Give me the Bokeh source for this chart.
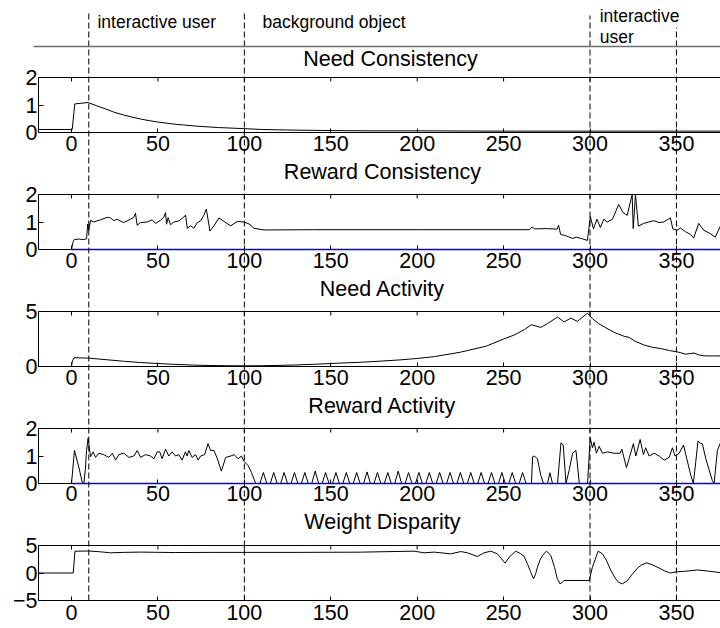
import math
from bokeh.plotting import figure
from bokeh.models import Range1d, FixedTicker, LinearAxis
from bokeh.core.properties import value
from bokeh.layouts import column
from bokeh.embed import file_html
from bokeh.resources import INLINE

FONT = "Liberation Sans"
FS = "21.5px"
AFS = "17.5px"

# ---------------- data ----------------
X_LIM = (-19.1, 375.5)
x_ticks = [0, 50, 100, 150, 200, 250, 300, 350]
event_x = [10, 100, 300, 350]
phase_text = ["interactive user", "background object", "interactive", "user"]
phase_x = [15.0, 110.5, 305.6, 305.6]

titles = ["Need Consistency", "Reward Consistency", "Need Activity",
          "Reward Activity", "Weight Disparity"]
title_x = [184.5, 179.9, 179.9, 179.9, 179.9]

y_limits = [(0, 2), (0, 2), (0, 5), (0, 2), (-5, 5)]
y_ticks = [[0, 1, 2], [0, 1, 2], [0, 5], [0, 1, 2], [-5, 0, 5]]

zero_x = [0, 380]
zero_y = [0, 0]

nc_x = [-19, 0, 0.4, 1.9, 5, 9.6, 15, 20, 24.5, 30, 35, 40, 45, 50, 60, 72.7, 85,
        100, 110, 125, 150, 175, 200, 250, 300, 350, 376]
nc_y = [0.11, 0.11, 0.11, 1.04, 1.06, 1.09, 0.96, 0.85, 0.74, 0.64, 0.56, 0.49, 0.43,
        0.38, 0.3, 0.23, 0.18, 0.14, 0.11, 0.09, 0.07, 0.06, 0.06, 0.05, 0.05, 0.05, 0.05]

rc_x = [-19, 0, 1, 1.7, 4.2, 7.1, 8.7, 9.4, 10, 11, 12.9, 16.8, 20.6, 22.5, 24.5, 26.4,
        30.2, 34.1, 36, 37, 38, 39.9, 43.8, 46.7, 48.6, 51.5, 53.4, 54.4, 55, 55.9, 57.3,
        59.2, 62.1, 65, 66, 67, 68.9, 70.8, 72.8, 74.7, 76.6, 78, 80.1, 82.4, 85.3, 88.2,
        92.1, 95.9, 99.8, 102.7, 105.6, 111.4, 140, 200, 265, 266.5, 268, 275, 281,
        281.8, 283, 286, 290, 292, 295, 298.5, 300.2, 302, 304, 306, 308, 310, 313,
        316.6, 319, 321.5, 324.4, 325, 326.3, 328, 331, 334, 336.9, 340, 342.6, 346.5,
        347.9, 350.4, 352.3, 355.2, 358, 360, 362.9, 365.8, 369, 372.5, 375.4, 380]
rc_y = [0, 0, 0.3, 0.36, 0.38, 0.36, 0.39, 0.93, 0.7, 1.06, 1.0, 1.08, 1.17, 1.15, 1.05,
        1.1, 0.98, 1.1, 1.17, 1.32, 0.88, 0.98, 1.0, 1.08, 0.95, 1.06, 1.18, 1.34, 0.92,
        1.16, 0.9, 1.0, 1.04, 1.18, 1.25, 0.77, 0.86, 0.77, 0.98, 1.04, 1.25, 1.47, 0.67,
        0.86, 1.15, 1.02, 0.86, 1.02, 1.0, 0.93, 0.77, 0.71, 0.72, 0.72, 0.72, 0.82,
        0.75, 0.76, 0.74, 0.88, 0.55, 0.5, 0.4, 0.45, 0.4, 0.33, 1.2, 0.75, 1.1, 0.8,
        1.1, 1.0, 1.1, 1.64, 1.35, 1.24, 2.0, 0.76, 2.0, 0.85, 0.95, 1.0, 1.05, 0.98,
        1.0, 1.15, 0.75, 0.7, 0.78, 0.65, 0.55, 0.42, 0.95, 0.7, 0.6, 0.45, 0.85, 0.9]

na_x = [-19, 0, 0.5, 1.5, 5, 10, 20, 30, 40, 50, 60, 70, 80, 90, 100, 110, 120, 130,
        140, 150, 160, 167, 180, 190, 200, 210, 225, 240, 250, 256, 262, 266, 271.5,
        275.4, 281.2, 285, 288.9, 292.7, 298.5, 301.4, 305, 308.2, 314, 319.7, 322.6,
        326, 331.3, 336, 340.9, 346, 350.6, 355.4, 358, 360.2, 363, 366, 372, 376]
na_y = [0, 0, 0.5, 0.8, 0.78, 0.76, 0.62, 0.48, 0.36, 0.27, 0.19, 0.13, 0.09, 0.07,
        0.06, 0.07, 0.1, 0.14, 0.2, 0.27, 0.34, 0.38, 0.5, 0.6, 0.73, 0.9, 1.3, 1.85,
        2.5, 2.85, 3.35, 3.8, 3.55, 3.9, 4.5, 4.05, 4.4, 4.1, 4.85, 4.35, 3.9, 3.6, 3.1,
        2.75, 2.65, 2.3, 1.95, 1.75, 1.63, 1.45, 1.33, 1.12, 1.18, 1.22, 1.05, 0.97,
        0.96, 0.97]

ra_x = [-19, 0, 1.7, 4.2, 6.2, 7.1, 8, 8.7, 9.6, 11, 12.5, 13.9, 15.8, 18.7, 21.6, 23.6,
        25.5, 27.4, 30.3, 33.2, 36.1, 38, 40, 42.8, 45.7, 47.7, 49.6, 51.1, 52.4, 54.4,
        56.3, 58.2, 60.2, 62.1, 64, 65.9, 66.9, 67.9, 69.8, 71.8, 73.3, 74.7, 77, 79,
        80.5, 82.4, 84.4, 86.7, 89.2, 92.1, 94.1, 96.4, 98.3, 99.9, 102.2, 104.1, 106.6,
        109, 111, 113, 115, 117, 119, 121, 123, 125, 127, 129, 131, 133, 135, 137, 139,
        141, 143, 145, 147, 149, 151, 153, 155, 157, 159, 161, 163, 165, 167, 169, 171,
        173, 175, 177, 179, 181, 183, 185, 187, 189, 191, 193, 195, 197, 199, 201, 203,
        205, 207, 209, 211, 213, 215, 217, 219, 221, 223, 225, 227, 229, 231, 233, 235,
        237, 239, 241, 243, 245, 247, 249, 251, 253, 255, 257, 259, 261, 263,
        266.1, 266.8, 267.7, 269.6, 271.5, 273.1, 275.4, 276.8, 278.3, 281.2, 283.2,
        284.5, 286.1, 288, 289.9, 291.9, 293.8, 298.6, 300.1, 301.4, 302.4, 303.7, 305.3,
        307.2, 310.1, 313.9, 317.4, 318.4, 321.1, 322.6, 325.1, 326.5, 329, 330.9, 332.2,
        334.2, 337.1, 340, 342.9, 345.8, 347.7, 349.2, 351.6, 354.1, 356, 358.3, 359.8,
        361.2, 362.5, 364, 365, 367, 368.9, 370.8, 371.8, 373.7, 375.6, 378]
ra_y = [0, 0, 1.2, 0.6, 0.05, 0, 0.5, 1.2, 1.65, 0.97, 1.15, 0.95, 1.1, 1.05, 0.95, 1.1,
        0.85, 1.05, 1.1, 0.95, 1.0, 1.2, 0.95, 1.05, 1.0, 0.9, 1.15, 1.15, 0.9, 1.25,
        1.0, 1.15, 1.0, 1.05, 0.85, 1.15, 1.0, 1.2, 0.95, 1.05, 0.85, 1.0, 1.05, 1.45,
        1.2, 1.2, 0.9, 0.45, 0.95, 1.0, 1.05, 0.9, 1.0, 0.8, 0.65, 0.4, 0.0,
        0, 0.4, 0, 0, 0.4, 0, 0, 0.4, 0, 0, 0.4, 0, 0, 0.4, 0, 0, 0.45, 0,
        0, 0.4, 0, 0, 0.4, 0, 0, 0.4, 0, 0, 0.4, 0, 0, 0.42, 0, 0, 0.4, 0,
        0, 0.4, 0, 0, 0.45, 0, 0, 0.4, 0, 0, 0.4, 0, 0, 0.4, 0, 0, 0.4, 0,
        0, 0.4, 0, 0, 0.4, 0, 0, 0.4, 0, 0, 0.4, 0, 0, 0.4, 0, 0, 0.4, 0,
        0, 0.4, 0, 0, 0.4, 0,
        0, 0.97, 1.0, 0.9, 0.3, 0, 0, 0.39, 0, 0, 1.48, 1.4, 0, 0.5, 1.1, 1.2, 0, 0,
        1.67, 1.3, 1.5, 1.1, 1.35, 1.1, 1.15, 1.1, 1.1, 1.25, 0.58, 0.9, 1.45, 1.0, 1.6,
        1.05, 1.3, 1.0, 1.1, 1.0, 0.85, 0.95, 1.3, 1.0, 1.1, 1.4, 0.9, 0.3, 0, 0.8,
        1.55, 1.45, 1.45, 0.9, 0.5, 0.1, 0, 1.2, 1.5, 1.8]

wd_x = [-19, 1, 2, 10, 16.8, 22.5, 30, 40, 60, 80, 100, 130, 167.3, 198.2, 204, 209.8,
        219.4, 225.2, 229.1, 234.8, 238.7, 242.6, 246.4, 250.9, 253.2, 257, 259.9, 261.9,
        263.8, 265.5, 267.3, 268.5, 269.6, 271, 272.5, 274.8, 277.3, 279.5, 281, 282.7,
        284.1, 285, 299.5, 301.4, 304.7, 307.2, 309.5, 312, 314.5, 316.5, 318.8, 321.7,
        324.5, 327.5, 330, 332.9, 336, 340, 343, 346.4, 350.6, 354.5, 362.2, 368, 375.6]
wd_y = [0, 0, 3.96, 4.0, 3.85, 3.67, 3.75, 3.8, 3.72, 3.75, 3.75, 3.75, 3.79, 3.97, 3.67,
        3.8, 3.48, 3.9, 3.67, 3.0, 3.67, 3.97, 3.48, 1.79, 2.88, 3.97, 3.5, 3.0, 1.67,
        0.3, -1.06, -0.2, 1.06, 2.3, 3.18, 3.97, 3.2, 1.0, -1.0, -1.97, -1.67, -1.36,
        -1.36, 1.06, 3.97, 3.48, 2.3, 0.5, -0.9, -1.7, -1.97, -1.36, -0.2, 0.9, 1.5,
        1.85, 1.5, 0.9, 0.4, 0.0, 0.24, 0.3, 0.55, 0.36, 0.06]

series_x = [nc_x, rc_x, na_x, ra_x, wd_x]
series_y = [nc_y, rc_y, na_y, ra_y, wd_y]
has_zero_line = [False, True, False, True, False]

# ---------------- layout / style ----------------
W = 720
fig_h = [159, 117, 117, 116, 119]
b_top = [77, 35, 35, 35, 36]
b_bot = [27, 27, 27, 26, 28]
label_standoff = [3, 3, 3, 2, 4]
title_off = [18.7, 22.3, 22.3, 22.3, 23.3]
vtop_px = [65, 65, 62, 50]        # first panel: how far the event lines rise above it
phase_off = [55.2, 55.2, 61.8, 40.2]
rule_off = 31


def style_axis(ax, tick_in):
    ax.axis_line_color = "black"
    ax.axis_line_width = 1
    ax.major_tick_line_color = "black"
    ax.major_tick_in = tick_in
    ax.major_tick_out = 0
    ax.minor_tick_line_color = None
    ax.major_label_text_font = FONT
    ax.major_label_text_font_size = FS
    ax.major_label_text_color = "black"


figs = []
for i in range(5):
    y0, y1 = y_limits[i]
    frame_h = fig_h[i] - b_top[i] - b_bot[i]
    p = figure(width=W, height=fig_h[i], x_range=Range1d(*X_LIM),
               y_range=Range1d(y0, y1), x_axis_type=None, y_axis_type=None,
               output_backend="svg", toolbar_location=None,
               min_border_left=38, min_border_right=0,
               min_border_top=b_top[i], min_border_bottom=b_bot[i])
    p.outline_line_color = None
    p.background_fill_color = "white"
    p.border_fill_color = "white"

    below = LinearAxis(ticker=FixedTicker(ticks=x_ticks))
    style_axis(below, 4)
    below.major_label_standoff = label_standoff[i]
    if has_zero_line[i]:
        below.axis_line_color = None   # the bottom edge is drawn by the zero lines
    p.add_layout(below, "below")

    left = LinearAxis(ticker=FixedTicker(ticks=y_ticks[i]))
    style_axis(left, 5)
    left.major_label_standoff = 1
    left.major_label_overrides = {t: ("\u2212" + str(-t)) for t in y_ticks[i] if t < 0}
    p.add_layout(left, "left")

    # top edge of the box with inward ticks
    p.hspan(y=[y1], line_color="black", line_width=1, level="overlay")
    p.ray(x=x_ticks, y=[y1] * len(x_ticks), length=4, length_units="screen",
          angle=-math.pi / 2, line_color="black", line_width=1)

    p.line(series_x[i], series_y[i], color="black", line_width=1, level="overlay")
    if has_zero_line[i]:
        p.line(zero_x, zero_y, color="#0000ff", line_width=1.5, level="overlay")

    span = y1 - y0
    if i == 0:
        tops = [y1 + v * span / frame_h for v in vtop_px]
    else:
        tops = [y1 + 4 * span] * len(event_x)
    bottom = y0 if i == 4 else y0 - 4 * span
    p.segment(x0=event_x, y0=[bottom] * len(event_x), x1=event_x, y1=tops,
              color="black", line_width=1, line_dash="6 3", level="overlay")

    p.text(x=[title_x[i]], y=[y1], text=[titles[i]], y_offset=-title_off[i],
           text_align="center", text_baseline="alphabetic",
           text_font=value(FONT), text_font_size=value(FS), text_color="black",
           level="overlay")

    if i == 0:
        ry = y1 + rule_off * span / frame_h
        p.segment(x0=[-22], y0=[ry], x1=[380], y1=[ry], color="#6e6e6e",
                  line_width=1.5, level="overlay")
        p.text(x=phase_x, y=[y1] * len(phase_x), text=phase_text,
               y_offset=[-o for o in phase_off], text_align="left",
               text_baseline="alphabetic", text_font=value(FONT),
               text_font_size=value(AFS), text_color="black", level="overlay")
    figs.append(p)

layout = column(*figs, spacing=0)
open("out.html", "w").write(file_html(layout, INLINE))
